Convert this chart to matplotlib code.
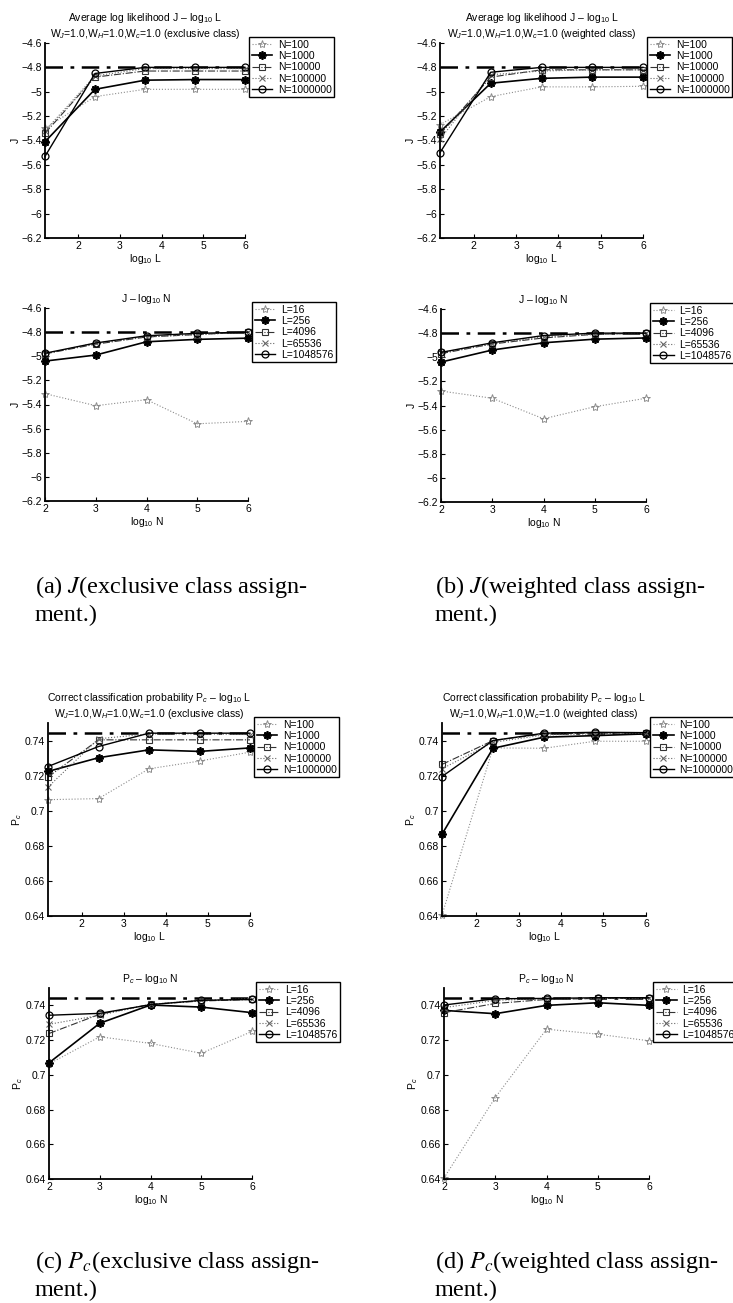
import matplotlib
matplotlib.use("Agg")
import matplotlib.pyplot as plt
from matplotlib.ticker import FuncFormatter

plt.rcParams['font.family'] = ['Liberation Sans', 'DejaVu Sans']
plt.rcParams['mathtext.fontset'] = 'custom'
plt.rcParams['mathtext.rm'] = 'Liberation Sans'
plt.rcParams['mathtext.it'] = 'Liberation Sans:italic'
plt.rcParams['mathtext.bf'] = 'Liberation Sans:bold'

# x positions
x_L = [1.2, 2.4, 3.6, 4.8, 6.0]
x_N = [2, 3, 4, 5, 6]

n_labels = ["N=100", "N=1000", "N=10000", "N=100000", "N=1000000"]
l_labels = ["L=16", "L=256", "L=4096", "L=65536", "L=1048576"]

# reference (dash-dot) levels
j_ref = -4.8
pc_ref = 0.7445

# (a) J, exclusive class, vs log10 L
j_excl_L = [
    [-5.30, -5.04, -4.98, -4.98, -4.98],
    [-5.41, -4.98, -4.905, -4.90, -4.90],
    [-5.34, -4.88, -4.83, -4.83, -4.83],
    [-5.32, -4.87, -4.81, -4.81, -4.81],
    [-5.53, -4.85, -4.80, -4.80, -4.80],
]
# (a) J, exclusive class, vs log10 N
j_excl_N = [
    [-5.31, -5.41, -5.36, -5.56, -5.54],
    [-5.04, -4.99, -4.88, -4.86, -4.85],
    [-4.98, -4.90, -4.84, -4.82, -4.80],
    [-4.98, -4.89, -4.84, -4.82, -4.80],
    [-4.975, -4.89, -4.83, -4.81, -4.80],
]
# (b) J, weighted class, vs log10 L
j_wgt_L = [
    [-5.27, -5.04, -4.96, -4.96, -4.955],
    [-5.33, -4.93, -4.89, -4.88, -4.88],
    [-5.35, -4.88, -4.82, -4.82, -4.82],
    [-5.39, -4.86, -4.83, -4.82, -4.82],
    [-5.50, -4.84, -4.80, -4.80, -4.80],
]
# (b) J, weighted class, vs log10 N
j_wgt_N = [
    [-5.28, -5.34, -5.51, -5.41, -5.34],
    [-5.04, -4.94, -4.88, -4.85, -4.84],
    [-4.97, -4.89, -4.84, -4.81, -4.80],
    [-4.96, -4.89, -4.83, -4.81, -4.80],
    [-4.96, -4.88, -4.82, -4.80, -4.80],
]
# (c) Pc, exclusive class, vs log10 L
pc_excl_L = [
    [0.7063, 0.7069, 0.7239, 0.7283, 0.7334],
    [0.7224, 0.7302, 0.7347, 0.7338, 0.7358],
    [0.7192, 0.7404, 0.7404, 0.7404, 0.7404],
    [0.7135, 0.7410, 0.7438, 0.7438, 0.7434],
    [0.7252, 0.7366, 0.7442, 0.7442, 0.7442],
]
# (c) Pc, exclusive class, vs log10 N
pc_excl_N = [
    [0.7063, 0.7219, 0.7181, 0.7124, 0.7250],
    [0.7069, 0.7297, 0.7402, 0.7390, 0.7358],
    [0.7238, 0.7349, 0.7406, 0.7425, 0.7434],
    [0.7291, 0.7343, 0.7406, 0.7429, 0.7438],
    [0.7343, 0.7354, 0.7404, 0.7429, 0.7434],
]
# (d) Pc, weighted class, vs log10 L
pc_wgt_L = [
    [0.6405, 0.7358, 0.7356, 0.7396, 0.7396],
    [0.6866, 0.7356, 0.7419, 0.7428, 0.7438],
    [0.7264, 0.7400, 0.7438, 0.7442, 0.7442],
    [0.7239, 0.7390, 0.7432, 0.7438, 0.7442],
    [0.7195, 0.7400, 0.7442, 0.7447, 0.7445],
]
# (d) Pc, weighted class, vs log10 N
pc_wgt_N = [
    [0.6406, 0.6869, 0.7263, 0.7234, 0.7196],
    [0.7371, 0.7352, 0.7400, 0.7415, 0.7400],
    [0.7358, 0.7411, 0.7434, 0.7440, 0.7440],
    [0.7387, 0.7429, 0.7438, 0.7440, 0.7442],
    [0.7402, 0.7438, 0.7440, 0.7444, 0.7444],
]

j_ticks = [-6.2, -6.0, -5.8, -5.6, -5.4, -5.2, -5.0, -4.8, -4.6]
pc_ticks = [0.64, 0.66, 0.68, 0.70, 0.72, 0.74]

styles = [
    dict(ls=':', marker='*', color='0.55', mfc='none', lw=0.8, ms=6, mew=0.7),
    dict(ls='-', marker=(8, 2, 0), color='k', lw=1.2, ms=6, mew=1.3),
    dict(ls='-.', marker='s', color='0.2', mfc='none', lw=0.8, ms=4.5, mew=0.8),
    dict(ls=':', marker='x', color='0.4', lw=0.8, ms=4.5, mew=0.8),
    dict(ls='-', marker='o', color='k', mfc='none', lw=1.0, ms=5, mew=0.9),
]

W, H = 733, 1303
fig = plt.figure(figsize=(W / 100, H / 100), dpi=100)


def fmt(v, p):
    return f"{v:g}".replace('-', '\u2212')


def panel(box, x, series, labels, ref, xlim, ylim, yticks, title, xlabel, ylabel):
    x0, y0, x1, y1 = box
    ax = fig.add_axes([x0 / W, 1 - y1 / H, (x1 - x0) / W, (y1 - y0) / H])
    ax.axhline(ref, color='k', lw=1.8, ls=(0, (7, 3, 1.5, 3)), zorder=1)
    for ys, lab, st in zip(series, labels, styles):
        ax.plot(x, ys, label=lab, clip_on=False, **st)
    ax.set_xlim(*xlim)
    ax.set_ylim(*ylim)
    ax.set_xticks([2, 3, 4, 5, 6])
    ax.set_yticks(yticks)
    ax.yaxis.set_major_formatter(FuncFormatter(fmt))
    ax.spines['top'].set_visible(False)
    ax.spines['right'].set_visible(False)
    for s in ('left', 'bottom'):
        ax.spines[s].set_linewidth(1.3)
    ax.tick_params(direction='in', length=3, width=0.8, labelsize=7.5, pad=2)
    ax.set_title(title, fontsize=7.5, pad=4, linespacing=1.2)
    ax.set_xlabel(xlabel, fontsize=7.5, labelpad=1)
    ax.set_ylabel(ylabel, fontsize=7.5, labelpad=1)
    leg = ax.legend(loc='upper left', bbox_to_anchor=(1.02, 1.03), fontsize=7.5,
                    fancybox=False, edgecolor='k', framealpha=1, borderpad=0.25,
                    labelspacing=0.12, handlelength=2.0, handletextpad=0.5,
                    borderaxespad=0)
    leg.get_frame().set_linewidth(1.0)
    return ax


title_aL = "Average log likelihood J \u2013 log$_{10}$ L\nW$_J$=1.0,W$_H$=1.0,W$_c$=1.0 (KIND class)"
title_cL = "Correct classification probability P$_c$ \u2013 log$_{10}$ L\nW$_J$=1.0,W$_H$=1.0,W$_c$=1.0 (KIND class)"

panel((45, 43, 245, 238), x_L, j_excl_L, n_labels, j_ref, (1.2, 6), (-6.2, -4.6), j_ticks,
      title_aL.replace("KIND", "exclusive"), "log$_{10}$ L", "J")
panel((45, 308, 248, 501), x_N, j_excl_N, l_labels, j_ref, (2, 6), (-6.2, -4.6), j_ticks,
      "J \u2013 log$_{10}$ N", "log$_{10}$ N", "J")
panel((440, 43, 643, 238), x_L, j_wgt_L, n_labels, j_ref, (1.2, 6), (-6.2, -4.6), j_ticks,
      title_aL.replace("KIND", "weighted"), "log$_{10}$ L", "J")
panel((441, 309, 646, 502), x_N, j_wgt_N, l_labels, j_ref, (2, 6), (-6.2, -4.6), j_ticks,
      "J \u2013 log$_{10}$ N", "log$_{10}$ N", "J")

panel((48, 723, 250, 916), x_L, pc_excl_L, n_labels, pc_ref, (1.2, 6), (0.64, 0.75), pc_ticks,
      title_cL.replace("KIND", "exclusive"), "log$_{10}$ L", "P$_c$")
panel((49, 988, 252, 1179), x_N, pc_excl_N, l_labels, pc_ref, (2, 6), (0.64, 0.75), pc_ticks,
      "P$_c$ \u2013 log$_{10}$ N", "log$_{10}$ N", "P$_c$")
panel((442, 723, 646, 916), x_L, pc_wgt_L, n_labels, pc_ref, (1.2, 6), (0.64, 0.75), pc_ticks,
      title_cL.replace("KIND", "weighted"), "log$_{10}$ L", "P$_c$")
panel((444, 988, 649, 1179), x_N, pc_wgt_N, l_labels, pc_ref, (2, 6), (0.64, 0.75), pc_ticks,
      "P$_c$ \u2013 log$_{10}$ N", "log$_{10}$ N", "P$_c$")

# sub-figure captions
captions = [
    (35, 587, "(a) $J$(exclusive class assign-"),
    (435, 587, "(b) $J$(weighted class assign-"),
    (35, 1262, "(c) $P_c$(exclusive class assign-"),
    (435, 1262, "(d) $P_c$(weighted class assign-"),
]
for cx, cy, txt in captions:
    fig.text(cx / W, 1 - cy / H, txt, family='Liberation Serif', math_fontfamily='stix',
             fontsize=17.5, va='center', ha='left')
    fig.text(cx / W, 1 - (cy + 28) / H, "ment.)", family='Liberation Serif',
             fontsize=17.5, va='center', ha='left')

fig.savefig("out.png", dpi=100, facecolor='white')
